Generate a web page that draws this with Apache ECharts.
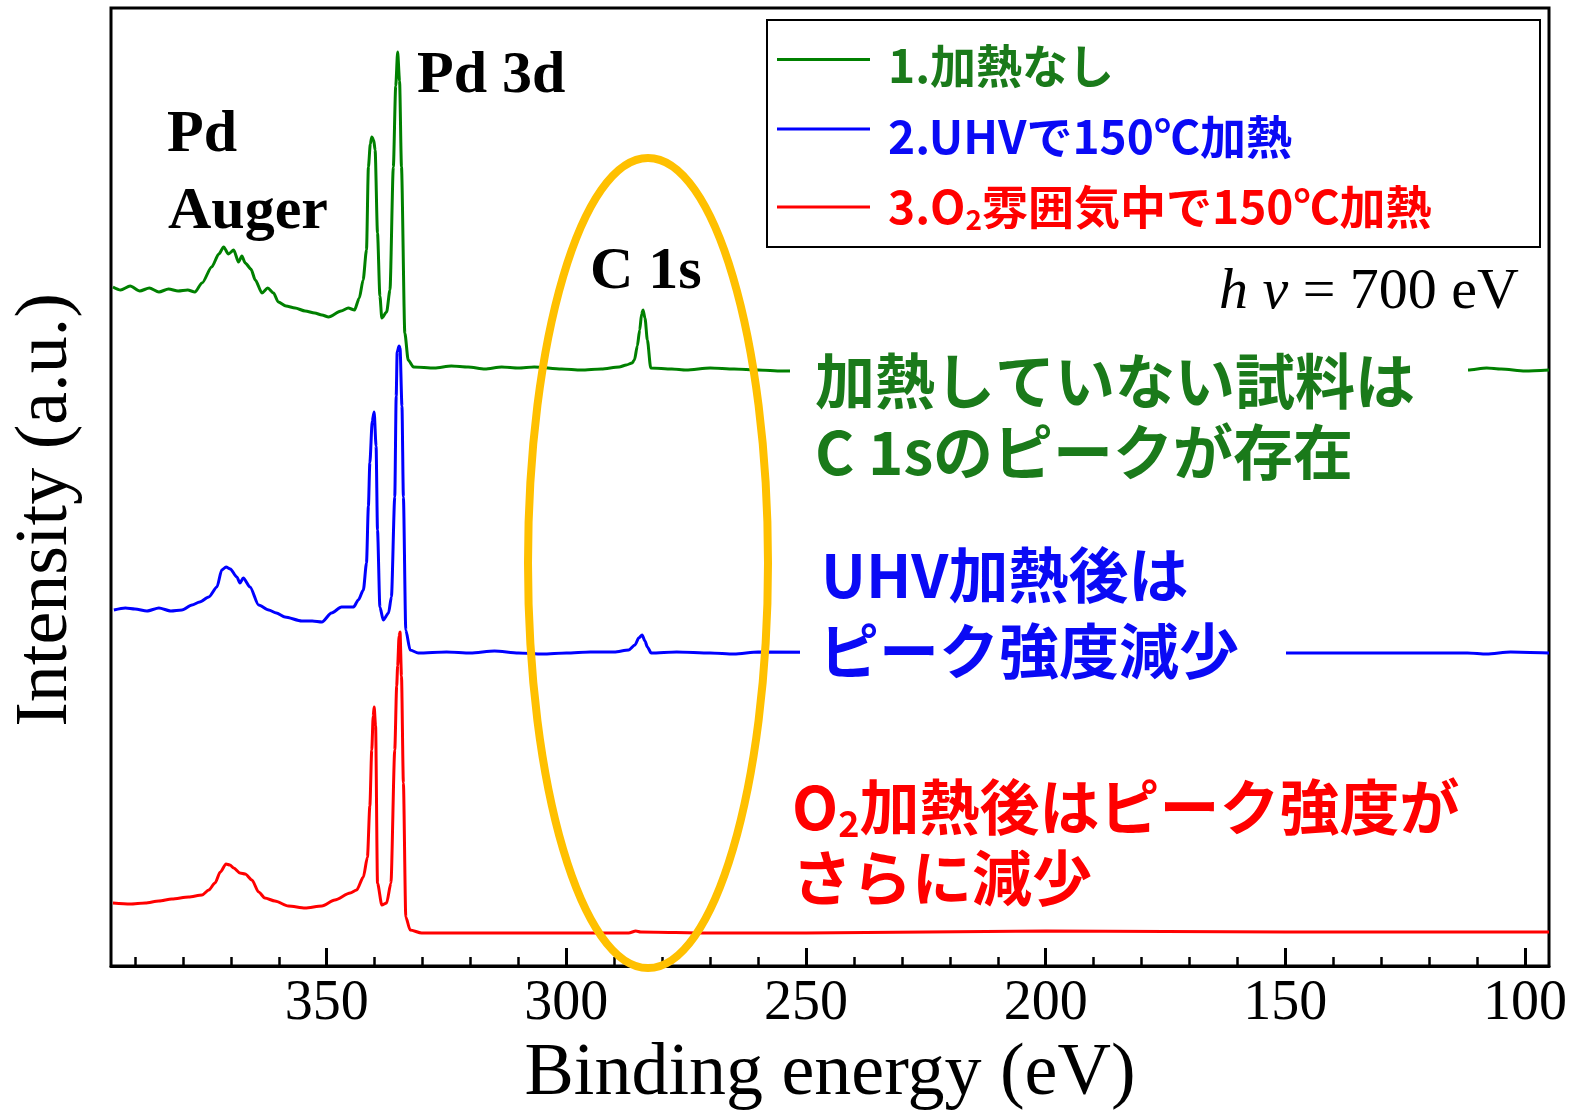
<!DOCTYPE html>
<html>
<head>
<meta charset="utf-8">
<title>XPS Pd 3d / C 1s</title>
<script src="https://cdn.jsdelivr.net/npm/echarts@6/dist/echarts.min.js"></script>
<style>
  html, body { margin: 0; padding: 0; background: #fff; }
  #chart { width: 1582px; height: 1112px; }
</style>
</head>
<body>
<div id="chart"></div>
<script>
// binding energy (eV) and intensity (a.u.)
// 1. no heating
var noHeatEV = [394.6, 393, 391, 389, 387, 385, 383, 381, 379, 377.5, 376, 374, 372.5, 371.5, 370.5, 369.4, 368.4, 367.7, 367,
    365.8, 364.9, 363.5, 362.3, 361.1, 360.1, 358.5, 356.6, 354.5, 352.5, 351, 349.6, 347, 345.5, 344.2, 343.2, 342.4,
    341.7, 341.3, 340.9, 340.6, 340.2, 339.9, 339.4, 338.9, 338.5, 337.5, 336.8, 336.1, 335.6, 335.2, 334.8, 334.4,
    333.7, 333, 331.9, 327.5, 324, 320.5, 317, 313.5, 310, 306.7, 301, 296.9, 292.7, 289, 287.5, 286.3, 285.8, 285.2,
    284.7, 284.3, 284.0, 283.6, 283.1, 282.4, 278, 275, 270, 265, 260, 255, 200, 150, 111.9, 108, 105, 100, 95];
var noHeatInt = [679, 676, 680, 675, 678, 674, 677, 675, 676, 674, 683, 699, 712, 719, 712, 716, 704, 710, 703,
    697, 686, 673, 678, 673, 664, 660, 658, 655, 653, 651, 649, 655, 658, 656, 668, 686,
    716, 799, 822, 829, 826, 816, 733, 670, 648, 654, 676, 799, 880, 914, 885, 799,
    633, 606, 599, 598, 600, 599, 597, 599, 598, 599, 597, 596, 597, 599, 601, 603, 606, 620,
    636, 652, 656, 648, 626, 598, 597, 596, 598, 597, 596, 595, 596, 596, 596, 598, 597, 595, 596];

// 2. UHV, 150 C
var uhvEV = [394.4, 392, 390, 387.5, 385, 382.5, 380.2, 378.1, 376.5, 374.6, 372.9, 371.9, 371, 370.1, 368.75, 368.1,
    367.4, 366.0, 364.2, 362.1, 360.5, 358.7, 355.2, 353, 351.0, 349.0, 346.9, 344.4, 343.4, 342.35, 341.7, 341.3,
    341.0, 340.5, 340.1, 339.7, 339.4, 338.9, 338.2, 337.1, 336.5, 335.8, 335.5, 335.3, 334.9, 334.7, 334.3, 334.0,
    333.5, 332.6, 330.9, 325, 320, 315, 310, 305, 300, 295, 290, 287, 285.7, 284.9, 284.2, 283.6, 283.1, 282.3,
    277, 270, 265, 260, 200, 150, 112, 108, 103, 95];
var uhvInt = [356, 358, 357, 355, 358, 355, 356, 361, 364, 369, 379, 396, 399, 397, 389, 383,
    388, 379, 361, 356, 353, 349, 345, 345, 344, 353, 359, 359, 366, 376, 403, 460,
    503, 545, 554, 520, 436, 359, 346, 353, 369, 469, 570, 614, 620, 618, 560, 469,
    336, 316, 313, 314, 313, 315, 313, 312, 313, 314, 314, 316, 321, 328, 331, 325, 319, 313,
    314, 313, 312, 314, 313, 313, 313, 312, 314, 313];

// 3. O2 atmosphere, 150 C
var oxyEV = [394.6, 391, 387.85, 385, 382.3, 378.8, 376.0, 374.6, 373.3, 372.2, 371.0, 370.2, 369.4, 368.1, 367.0,
    365.6, 364.2, 362.9, 360.8, 358.0, 354.5, 351.0, 348.3, 345.1, 343.75, 342.35, 341.5, 341.0, 340.6, 340.3, 340.1,
    339.8, 339.4, 338.5, 337.5, 336.6, 335.8, 335.4, 335.2, 334.9, 334.7, 334.4, 334.0, 333.5, 332.6, 330.2, 320, 300,
    287, 285.5, 284.5, 270, 250, 200, 150, 100, 95];
var oxyInt = [63, 62, 63, 65, 67, 69, 71, 76, 83, 94, 102, 101, 98, 93, 92,
    86, 74, 68, 65, 60, 58, 60, 66, 73, 76, 89, 109, 160, 216, 250, 259,
    240, 83, 61, 63, 83, 216, 280, 300, 330, 334, 290, 183, 49, 36, 33, 33, 33,
    33, 35, 34, 33, 33, 35, 34, 34, 34];

var majorTicks = [100, 150, 200, 250, 300, 350];
var minorTicks = [110, 120, 130, 140, 160, 170, 180, 190, 210, 220, 230, 240, 260, 270, 280, 290,
    310, 320, 330, 340, 360, 370, 380, 390];

var serif = "'Liberation Serif', 'Times New Roman', serif";
var gothic = "'Noto Sans CJK JP', sans-serif";
var green = '#008000', greenText = '#1a7a1a', blue = '#0000ff', blueText = '#0a0af5', red = '#ff0000';

function pairs(xs, ys) {
    return xs.map(function (x, i) { return [x, ys[i]]; });
}

function spectrum(name, xs, ys, color) {
    return {
        name: name,
        type: 'line',
        xAxisIndex: 0,
        showSymbol: false,
        symbol: 'none',
        smooth: 0.25,
        smoothMonotone: 'x',
        lineStyle: { color: color, width: 3 },
        itemStyle: { color: color },
        data: pairs(xs, ys)
    };
}

function label(text, x, y, size, color, bold, extra) {
    var el = {
        type: 'text',
        z: 101,
        style: {
            text: text,
            x: x,
            y: y,
            fill: color,
            fontSize: size,
            fontFamily: bold === 'serif' ? serif : gothic,
            fontWeight: 'bold',
            align: 'left',
            verticalAlign: 'middle'
        }
    };
    if (extra) {
        for (var k in extra) el.style[k] = extra[k];
    }
    return el;
}

var chart = echarts.init(document.getElementById('chart'));

var option = {
    animation: false,
    backgroundColor: '#fff',
    grid: {
        left: 111, right: 33, top: 8, bottom: 146,
        outerBoundsMode: 'none',
        containLabel: false,
        show: true, borderColor: '#000', borderWidth: 3
    },
    xAxis: [
        {
            type: 'value',
            inverse: true,
            min: 95,
            max: 395,
            position: 'bottom',
            axisLine: { show: true, lineStyle: { color: '#000', width: 3 } },
            axisTick: { show: true, inside: true, length: 18, customValues: majorTicks,
                lineStyle: { color: '#000', width: 3 } },
            axisLabel: { customValues: majorTicks, margin: 10, fontSize: 56, fontFamily: serif, color: '#000' },
            splitLine: { show: false },
            name: 'Binding energy (eV)',
            nameLocation: 'middle',
            nameGap: 72,
            nameTextStyle: { fontSize: 74, fontFamily: serif, color: '#000' }
        },
        {
            type: 'value',
            inverse: true,
            min: 95,
            max: 395,
            position: 'bottom',
            axisLine: { show: false },
            axisTick: { show: true, inside: true, length: 9, customValues: minorTicks,
                lineStyle: { color: '#000', width: 2.5 } },
            axisLabel: { show: false },
            splitLine: { show: false }
        }
    ],
    yAxis: {
        type: 'value',
        min: 0,
        max: 958,
        axisLine: { show: false },
        axisTick: { show: false },
        axisLabel: { show: false },
        splitLine: { show: false }
    },
    series: [
        spectrum('1.加熱なし', noHeatEV, noHeatInt, green),
        spectrum('2.UHVで150℃加熱', uhvEV, uhvInt, blue),
        spectrum('3.O2雰囲気中で150℃加熱', oxyEV, oxyInt, red)
    ],
    graphic: [
        // white boxes behind the annotations (they hide the traces)
        { type: 'rect', z: 100, shape: { x: 790, y: 340, width: 678, height: 150 }, style: { fill: '#fff' } },
        { type: 'rect', z: 100, shape: { x: 800, y: 540, width: 486, height: 150 }, style: { fill: '#fff' } },

        // y axis title
        {
            type: 'text', z: 101, x: 47, y: 510, rotation: Math.PI / 2,
            style: { text: 'Intensity (a.u.)', x: 0, y: 0, fill: '#000', fontSize: 74, fontFamily: serif,
                align: 'center', verticalAlign: 'middle' }
        },

        // peak labels
        label('Pd 3d', 417, 76, 60, '#000', 'serif'),
        label('Pd', 167, 135, 60, '#000', 'serif'),
        label('Auger', 168, 212, 60, '#000', 'serif'),
        label('C 1s', 590, 272, 60, '#000', 'serif'),

        // photon energy
        {
            type: 'text', z: 101,
            style: {
                text: '{i|h ν}{r| = 700 eV}', x: 1519, y: 293, align: 'right', verticalAlign: 'middle',
                rich: {
                    i: { fontSize: 58, fontFamily: serif, fontStyle: 'italic', fill: '#000' },
                    r: { fontSize: 58, fontFamily: serif, fill: '#000' }
                }
            }
        },

        // legend
        { type: 'rect', z: 100, shape: { x: 767, y: 20, width: 773, height: 227 },
            style: { fill: '#fff', stroke: '#000', lineWidth: 2 } },
        { type: 'line', z: 101, shape: { x1: 777, y1: 59.5, x2: 870, y2: 59.5 }, style: { stroke: green, lineWidth: 3 } },
        { type: 'line', z: 101, shape: { x1: 777, y1: 129, x2: 870, y2: 129 }, style: { stroke: blue, lineWidth: 3 } },
        { type: 'line', z: 101, shape: { x1: 777, y1: 207, x2: 870, y2: 207 }, style: { stroke: red, lineWidth: 3 } },
        label('1.加熱なし', 888, 66, 46, greenText),
        label('2.UHVで150℃加熱', 888, 137, 46, blueText),
        label('{n|3.O}{s|2}{n|雰囲気中で150℃加熱}', 888, 207, 46, red, false, {
            rich: {
                n: { fontSize: 46, fontFamily: gothic, fontWeight: 'bold', fill: red, lineHeight: 52 },
                s: { fontSize: 28, fontFamily: gothic, fontWeight: 'bold', fill: red, lineHeight: 28, verticalAlign: 'bottom' }
            }
        }),

        // annotations
        label('加熱していない試料は', 815, 381, 60, greenText),
        label('C 1sのピークが存在', 815, 452, 60, greenText),
        label('UHV加熱後は', 821, 575, 60, blueText),
        label('ピーク強度減少', 819, 651, 60, blueText),
        label('{n|O}{s|2}{n|加熱後はピーク強度が}', 792, 807, 60, red, false, {
            rich: {
                n: { fontSize: 60, fontFamily: gothic, fontWeight: 'bold', fill: red, lineHeight: 68 },
                s: { fontSize: 36, fontFamily: gothic, fontWeight: 'bold', fill: red, lineHeight: 36, verticalAlign: 'bottom' }
            }
        }),
        label('さらに減少', 792, 878, 60, red),

        // highlight ring round the C 1s region
        { type: 'ellipse', z: 102, shape: { cx: 648, cy: 563, rx: 120, ry: 405 },
            style: { fill: null, stroke: '#ffc000', lineWidth: 8 } }
    ]
};

chart.setOption(option);
</script>
</body>
</html>
